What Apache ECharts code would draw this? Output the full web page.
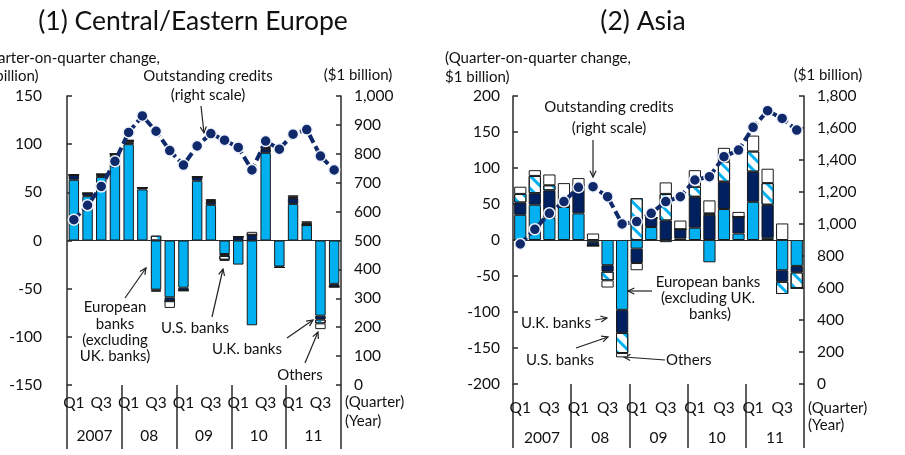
<!DOCTYPE html>
<html>
<head>
<meta charset="utf-8">
<script src="https://cdn.jsdelivr.net/npm/echarts@6/dist/echarts.min.js"></script>
<style>
  html, body { margin: 0; padding: 0; background: #fff; }
  #main { width: 905px; height: 455px; }
</style>
</head>
<body>
<div id="main"></div>
<script>
// Categories
const periods = ['2007Q1','2007Q2','2007Q3','2007Q4','2008Q1','2008Q2','2008Q3','2008Q4',
  '2009Q1','2009Q2','2009Q3','2009Q4','2010Q1','2010Q2','2010Q3','2010Q4',
  '2011Q1','2011Q2','2011Q3','2011Q4'];
const quarterTicks = ['Q1','','Q3','','Q1','','Q3','','Q1','','Q3','','Q1','','Q3','','Q1','','Q3',''];
const years = ['2007', '08', '09', '10', '11'];

// (1) Central/Eastern Europe, quarter-on-quarter change ($1 billion)
const ceeEuropean = [63, 46, 66, 86, 100, 53, -51, -59, -49, 62, 37, -14, -25, -88, 91, -27, 38, 16, -78, -45];
const ceeUK       = [5, 3, 2, 2, 2, 2, -1, -4, -3, 4, 3, -2, 4, 6, 4, -1, 6, 0, -4, -3];
const ceeUS       = [0, 0, 1, 2, 2, 0, 5, 0, 0, 0, 1, -4, 0, 0, 1, 0, 1, 2, -4, 0];
const ceeOthers   = [0, 0, 0, 0, 0, 0, -1, -7, 0, 0, 2, -1, 0, 3, 2, 0, 2, 2, -6, 0];
// Outstanding credits, right scale
const ceeCredits  = [572, 622, 687, 774, 874, 931, 878, 811, 761, 827, 870, 847, 822, 744, 844, 816, 868, 884, 792, 744];

// (2) Asia
const asiaEuropean = [35, 49, 31, 46, 37, -3, -35, -97, -12, 18, -3, 2, 17, -31, 43, 9, 53, 3, -42, -36];
const asiaUK       = [17, 16, 38, 0, 39, -5, -9, -32, -20, 13, 27, 13, 43, 35, 38, 23, 42, 46, -16, -9];
const asiaUS       = [12, 24, 7, 0, 0, 0, -12, -28, 58, 0, 37, 0, 14, 2, 28, 0, 28, 30, -17, -22];
const asiaOthers   = [10, 8, 15, 33, 10, 9, -10, -6, -10, 0, 16, 12, 23, 18, 19, 7, 22, 20, 23, 0];
const asiaCredits  = [875, 967, 1067, 1140, 1229, 1233, 1171, 1000, 1015, 1067, 1140, 1171, 1275, 1296, 1421, 1462, 1604, 1708, 1660, 1587];

const FONT = 'Lato';
const TEXT = '#111';
const AXIS = '#2a2a2a';
const LIGHT = '#00B0F0';
const NAVY = '#002060';
const LINE = '#10296A';

let myChart = echarts.init(document.getElementById('main'));

// U.S. banks: light blue diagonal stripes on white
const hatch = {
  color: '#fff',
  decal: {
    symbol: 'rect',
    color: LIGHT,
    dashArrayX: [1, 0],
    dashArrayY: [3, 6],
    rotation: Math.PI / 4
  }
};

function bars(name, data, idx, style, width) {
  return {
    name: name,
    type: 'bar',
    xAxisIndex: idx * 2,
    yAxisIndex: idx * 2,
    stack: 'chg' + idx,
    barWidth: width,
    itemStyle: Object.assign({ borderColor: '#1a1a1a', borderWidth: 1 }, style),
    data: data
  };
}

function credits(data, idx) {
  return {
    name: 'Outstanding credits',
    type: 'line',
    xAxisIndex: idx * 2,
    yAxisIndex: idx * 2 + 1,
    z: 5,
    symbol: 'circle',
    symbolSize: 11,
    itemStyle: { color: LINE, borderColor: '#eef3fb', borderWidth: 1.5 },
    lineStyle: { color: LINE, width: 4, type: [9, 4] },
    data: data
  };
}

const zeroLine = {
  silent: true,
  symbol: 'none',
  label: { show: false },
  lineStyle: { color: AXIS, width: 1, type: 'solid' },
  data: [{ yAxis: 0 }]
};

function quarterAxis(grid, margin) {
  return {
    type: 'category',
    gridIndex: grid,
    position: 'bottom',
    data: periods,
    axisLine: { show: false, onZero: false },
    axisTick: {
      show: true,
      interval: (i) => i % 4 === 0,
      length: 64,
      lineStyle: { color: AXIS, width: 1.5 }
    },
    axisLabel: {
      interval: 0,
      margin: margin,
      fontSize: 15.5,
      fontFamily: FONT,
      color: TEXT,
      formatter: (v, i) => quarterTicks[i]
    }
  };
}

function yearAxis(grid, offset) {
  return {
    type: 'category',
    gridIndex: grid,
    position: 'bottom',
    data: years,
    offset: offset,
    axisLine: { show: false, onZero: false },
    axisTick: { show: false },
    axisLabel: { interval: 0, margin: 10, fontSize: 15.5, fontFamily: FONT, color: TEXT }
  };
}

function valueAxis(grid, pos, min, max, step, margin) {
  return {
    type: 'value',
    gridIndex: grid,
    position: pos,
    min: min,
    max: max,
    interval: step,
    splitLine: { show: false },
    axisLine: { show: true, lineStyle: { color: AXIS, width: 1.5 } },
    axisTick: { show: true, inside: true, length: 5, lineStyle: { color: AXIS, width: 1.5 } },
    axisLabel: {
      margin: margin,
      fontSize: 15.5,
      fontFamily: FONT,
      color: TEXT,
      formatter: (v) => v.toLocaleString('en-US')
    }
  };
}

// Annotation helpers
function label(x, y, text, align, size) {
  return {
    type: 'text',
    x: x,
    y: y,
    style: {
      text: text,
      fill: TEXT,
      font: (size || 15) + 'px ' + FONT,
      align: align || 'center',
      verticalAlign: 'middle'
    }
  };
}

function arrow(x1, y1, x2, y2) {
  let a = Math.atan2(y2 - y1, x2 - x1);
  let h = 7;
  return [
    { type: 'line', shape: { x1: x1, y1: y1, x2: x2, y2: y2 }, style: { stroke: '#222', lineWidth: 1.2 } },
    {
      type: 'polyline',
      shape: { points: [
        [x2 - h * Math.cos(a - 0.45), y2 - h * Math.sin(a - 0.45)],
        [x2, y2],
        [x2 - h * Math.cos(a + 0.45), y2 - h * Math.sin(a + 0.45)]
      ] },
      style: { stroke: '#222', lineWidth: 1.2, fill: null }
    }
  ];
}

let graphics = [
  label(193, 21, '(1) Central/Eastern Europe', 'center', 26.5),
  label(643, 21, '(2) Asia', 'center', 26.5),
  // Central/Eastern Europe
  label(-26, 58, '(Quarter-on-quarter change,', 'left'),
  label(-26, 76, '$1 billion)', 'left'),
  label(358, 75, '($1 billion)'),
  label(208, 76, 'Outstanding credits'),
  label(208, 95, '(right scale)'),
  ...arrow(201, 106, 204, 133),
  label(115, 307, 'European'),
  label(115, 324, 'banks'),
  label(115, 340, '(excluding'),
  label(115, 356, 'UK. banks)'),
  ...arrow(125, 298, 146, 268),
  label(195, 328, 'U.S. banks'),
  ...arrow(212, 317, 223, 269),
  label(247, 349, 'U.K. banks'),
  ...arrow(287, 338, 313, 320),
  label(300, 375, 'Others'),
  ...arrow(305, 363, 318, 332),
  label(345, 402, '(Quarter)', 'left'),
  label(345, 421, '(Year)', 'left'),
  // Asia
  label(445, 58, '(Quarter-on-quarter change,', 'left'),
  label(445, 77, '$1 billion)', 'left'),
  label(828, 75, '($1 billion)'),
  label(609, 107, 'Outstanding credits'),
  label(609, 128, '(right scale)'),
  ...arrow(593, 140, 593, 177),
  label(708, 282, 'European banks'),
  label(708, 298, '(excluding UK.'),
  label(710, 314, 'banks)'),
  ...arrow(652, 291, 628, 291),
  label(556, 323, 'U.K. banks'),
  ...arrow(595, 320, 607, 318),
  label(560, 360, 'U.S. banks'),
  ...arrow(576, 348, 608, 337),
  label(666, 360, 'Others', 'left'),
  ...arrow(665, 360, 624, 357),
  label(808, 408, '(Quarter)', 'left'),
  label(808, 425, '(Year)', 'left')
];

let option = {
  animation: false,
  backgroundColor: '#fff',
  textStyle: { fontFamily: FONT },
  grid: [
    { left: 67, top: 96, width: 274, height: 289 },
    { left: 513, top: 96, width: 291, height: 288 }
  ],
  xAxis: [
    quarterAxis(0, 10),
    yearAxis(0, 33),
    quarterAxis(1, 16),
    yearAxis(1, 36)
  ],
  yAxis: [
    valueAxis(0, 'left', -150, 150, 50, 25),
    valueAxis(0, 'right', 0, 1000, 100, 13),
    valueAxis(1, 'left', -200, 200, 50, 13),
    valueAxis(1, 'right', 0, 1800, 200, 13)
  ],
  series: [
    Object.assign(bars('European banks', ceeEuropean, 0, { color: LIGHT }, '76%'), { markLine: zeroLine }),
    bars('U.K. banks', ceeUK, 0, { color: NAVY }, '76%'),
    bars('U.S. banks', ceeUS, 0, hatch, '76%'),
    bars('Others', ceeOthers, 0, { color: '#fff' }, '76%'),
    credits(ceeCredits, 0),
    Object.assign(bars('European banks', asiaEuropean, 1, { color: LIGHT }, '84%'), { markLine: zeroLine }),
    bars('U.K. banks', asiaUK, 1, { color: NAVY }, '84%'),
    bars('U.S. banks', asiaUS, 1, hatch, '84%'),
    bars('Others', asiaOthers, 1, { color: '#fff' }, '84%'),
    credits(asiaCredits, 1)
  ],
  graphic: graphics
};

option && myChart.setOption(option);
</script>
</body>
</html>
